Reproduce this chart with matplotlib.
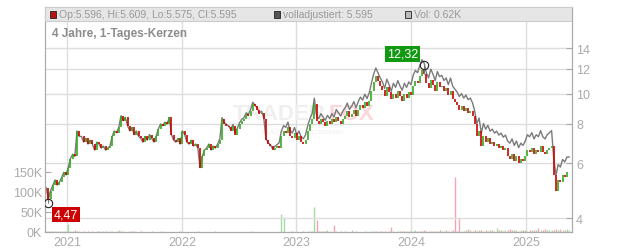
import numpy as np
import pandas as pd
import matplotlib
matplotlib.use('Agg')
import matplotlib.pyplot as plt
from matplotlib.patches import Rectangle
from matplotlib.ticker import FixedLocator, NullLocator, FuncFormatter

plt.rcParams['font.family'] = ['Liberation Sans', 'DejaVu Sans']

# weekly closes (1 value per week from 2020-10-26)
start = '2020-10-26'
close = [5.0, 4.6,
         4.9, 5.1, 5.3, 5.1, 5.2,
         5.4, 5.6, 5.5, 5.8, 6.2, 6.4, 6.3, 7.6, 7.3,
         7.3, 7.0, 7.2, 6.9, 7.1, 6.9, 6.6, 7.0, 6.9,
         6.7, 6.8, 6.6, 6.7, 6.8, 7.3, 7.6, 7.5, 7.8,
         8.5, 8.2, 8.4, 7.9, 7.6, 7.8, 7.4, 7.6, 7.3,
         7.2, 7.0, 7.3, 7.1, 7.4, 7.2, 7.0, 7.3,
         7.7, 8.0, 7.9, 8.1, 8.0, 8.4, 7.4, 7.1, 7.0, 7.2,
         6.9, 7.6, 7.4, 7.0, 6.9, 7.1, 6.8, 6.9, 6.7,
         5.8, 6.3, 6.6, 6.7, 6.9, 6.6, 6.8, 6.7, 6.9, 7.1,
         8.3, 8.0, 7.9, 7.8, 7.6, 7.9, 7.4, 7.7,
         8.0, 8.2, 8.3, 8.6, 8.5, 8.8, 9.3, 9.1,
         8.9, 8.6, 8.7, 8.3, 7.1, 6.9, 6.8, 6.6, 6.7, 6.8, 6.7,
         7.3, 7.6, 7.5, 7.8, 7.3, 7.2, 7.5, 7.1, 7.3,
         7.0, 6.9, 7.1, 7.6, 8.0, 8.3, 9.3,
         8.2, 8.0, 8.3, 8.1, 7.9, 8.2, 8.0, 8.3, 8.1, 8.4, 8.2, 8.0, 8.3,
         8.5, 8.8, 8.4, 8.6, 8.9, 8.5, 8.9, 9.2, 9.0, 9.4, 9.1, 9.5,
         10.2, 10.9, 11.4, 11.0, 10.6,
         10.3, 9.8, 10.5, 10.1, 9.6, 10.0, 9.7, 10.2,
         9.8, 9.5, 10.0, 9.7, 10.1, 9.9,
         10.6, 11.0, 10.8, 11.4, 11.9, 11.6,
         10.8, 10.4, 11.1, 10.7, 10.2, 10.9, 10.5,
         10.6, 10.2, 10.4, 9.9, 10.2, 9.6, 9.4,
         9.2, 8.9, 9.1, 8.8, 9.0, 8.7, 8.8, 8.5,
         8.0, 7.3, 7.6,
         6.8, 7.3, 7.0, 7.2, 6.9, 7.0, 6.8, 6.9, 6.7, 6.8, 6.6, 6.7,
         6.3, 6.2, 6.4, 6.1, 6.3, 6.0, 6.2, 6.1, 6.3,
         6.6, 6.5, 6.7, 6.4, 6.6, 6.5, 6.8, 6.5, 6.4, 6.6, 6.7, 6.8,
         5.5, 4.9, 5.3, 5.2, 5.5, 5.4, 5.6, 5.6]

# weekly volume in thousands
volume_k = [3, 2, 2, 3, 2, 2, 3, 2, 2, 3, 19, 2, 3, 4, 2, 2, 1, 2, 1, 2,
            0, 2, 1, 2, 3, 1, 2, 2, 1, 2, 3, 1, 2, 4, 2, 2, 1, 1, 2, 3,
            2, 1, 1, 2, 1, 1, 0, 1, 2, 1, 1, 1, 2, 1, 1, 0, 1, 1, 1, 0,
            1, 2, 1, 0, 1, 1, 0, 0, 1, 2, 1, 1, 0, 1, 1, 1, 1, 2, 1, 1,
            1, 1, 1, 0, 1, 1, 1, 0, 1, 1, 1, 0, 1, 2, 1, 1, 1, 0, 1, 1,
            1, 1, 1, 0, 1, 1, 1, 44, 38, 1, 0, 1, 2, 1, 1, 1, 1, 2, 1, 2,
            2, 3, 61, 29, 3, 2, 3, 2, 6, 2, 1, 17, 2, 1, 2, 1, 2, 1, 1, 4,
            1, 2, 1, 1, 1, 2, 1, 1, 2, 3, 2, 1, 2, 3, 2, 1, 2, 13, 2, 1,
            2, 2, 3, 2, 2, 3, 2, 3, 4, 2, 3, 2, 6, 3, 2, 2, 3, 2, 3, 4,
            3, 2, 4, 3, 2, 4, 137, 3, 35, 3, 2, 6, 8, 4, 3, 5, 3, 4, 5, 3,
            4, 3, 5, 4, 3, 10, 4, 5, 3, 4, 6, 8, 4, 5, 4, 3, 6, 4, 5, 3,
            5, 6, 4, 5, 9, 4, 6, 7, 5, 6, 4, 5, 8, 6, 7, 5, 6, 7, 5]

# dividend adjustment steps for the "volladjustiert" line
adj_dates = ['2022-05-02', '2022-11-01', '2023-05-02', '2023-11-01', '2024-05-02', '2024-11-01']
adj_factor = [1.00, 1.01, 1.04, 1.06, 1.08, 1.10, 1.12]

low_date, low_val = '2020-11-02', 4.47
high_date, high_val = '2024-02-12', 12.32
price_ticks = [4, 6, 8, 10, 12, 14]
vol_ticks = [0, 50, 100, 150]
years = [2021, 2022, 2023, 2024, 2025]

dates = pd.date_range(start, periods=len(close), freq='7D')
close = np.array(close)
fac = np.array(adj_factor)[pd.DatetimeIndex(adj_dates).searchsorted(dates, side='right')]
adjusted = close * fac

up = np.r_[True, close[1:] >= close[:-1]]
W, H = 632, 253

fig = plt.figure(figsize=(W / 100, H / 100), dpi=100)
ax_vol = fig.add_axes([45 / W, 20 / H, 527 / W, 225 / H])
ax = ax_vol.twinx()

grey = '#aaaaaa'

# volume
vcol = np.where(up, '#a6daa6', '#f2a6b4')
ax_vol.vlines(dates, 0, volume_k, colors=vcol, lw=1.0)
ax_vol.set_ylim(0, 558)
ax_vol.set_yticks(vol_ticks)
ax_vol.set_yticklabels([f'{v}K' for v in vol_ticks])
ax_vol.tick_params(axis='y', direction='in', length=4, colors=grey, labelsize=9, pad=2)
ax_vol.set_xlim(pd.Timestamp('2020-10-22'), pd.Timestamp('2025-05-28'))
ax_vol.set_xticks([pd.Timestamp(f'{y}-01-01') for y in years])
ax_vol.set_xticklabels([str(y) for y in years])
ax_vol.tick_params(axis='x', length=0, colors=grey, labelsize=9, pad=3)
ax_vol.grid(axis='x', color='#dddddd', lw=1)
ax_vol.set_axisbelow(True)

# watermark
ax_vol.text(233 / W, 1 - 115 / H, 'TRADER', transform=fig.transFigure, fontsize=16,
            fontweight='bold', color='#efefef', va='center', ha='left')
ax_vol.text(328 / W, 1 - 115 / H, 'FOX', transform=fig.transFigure, fontsize=16,
            fontweight='bold', color='#fcd6da', va='center', ha='left')
ax_vol.text(262 / W, 1 - 132 / H, 'REALTIME STOCK SCREENING', transform=fig.transFigure,
            fontsize=4, color='#eeeeee', va='center', ha='left')

# price
ax.set_yscale('log')
ax.set_ylim(3.61, 18.94)
ax.yaxis.set_major_locator(FixedLocator(price_ticks))
ax.yaxis.set_major_formatter(FuncFormatter(lambda v, _: f'{v:g}'))
ax.yaxis.set_minor_locator(NullLocator())
ax.tick_params(axis='y', direction='in', length=4, colors=grey, labelsize=9, pad=3)
ax.grid(axis='y', color='#dddddd', lw=1)

ax.plot(dates, adjusted, color='#7a7a7a', lw=1.0, zorder=2)
ax.vlines(dates[1:], close[:-1], close[1:], colors=np.where(up[1:], '#33aa22', '#cc0000'),
          lw=1.2, zorder=3)
ax.vlines([pd.Timestamp(high_date)], close[dates.get_loc(pd.Timestamp(high_date))], high_val,
          colors='#777777', lw=0.8, zorder=3)
ax.vlines([pd.Timestamp(low_date)], low_val, close[dates.get_loc(pd.Timestamp(low_date))],
          colors='#777777', lw=0.8, zorder=3)

for d, v, txt, col, off, ha, va in [
        (low_date, low_val, '4,47', '#cc0000', (4, -4), 'left', 'top'),
        (high_date, high_val, '12,32', '#119911', (-4, 4), 'right', 'bottom')]:
    ax.plot([pd.Timestamp(d)], [v], 'o', mfc='none', mec='#222222', ms=6, mew=0.8, zorder=6)
    ax.annotate(txt, (pd.Timestamp(d), v), xytext=off, textcoords='offset points',
                ha=ha, va=va, color='white', fontsize=9, zorder=7,
                bbox=dict(boxstyle='square,pad=0.15', fc=col, ec='none'))

for a in (ax_vol, ax):
    for s in a.spines.values():
        s.set_color(grey)
    a.spines['top'].set_color('#cccccc')

# header band
ax.add_patch(Rectangle((0, 1 - 14 / 225), 1, 14 / 225, transform=ax.transAxes,
                       facecolor='#e6e6e6', edgecolor='#cccccc', lw=0.8, zorder=8))
hy = 1 - 15.5 / H
for x0, col, txt in [(50, '#bb1111', 'Op:5.596, Hi:5.609, Lo:5.575, Cl:5.595'),
                     (274, '#555555', 'volladjustiert: 5.595'),
                     (405, '#bbbbbb', 'Vol: 0.62K')]:
    fig.patches.append(Rectangle((x0 / W, hy - 3.5 / H), 6 / W, 7 / H, transform=fig.transFigure,
                                 facecolor=col, edgecolor='#222222', lw=0.6, zorder=9))
    fig.text((x0 + 9) / W, hy, txt, fontsize=7.5, color='#999999', va='center', ha='left', zorder=9)

fig.text(52 / W, 1 - 34 / H, '4 Jahre, 1-Tages-Kerzen', fontsize=8.5, fontweight='bold',
         color='#8c8c8c', va='center', ha='left')

fig.savefig('out.png', dpi=100)
